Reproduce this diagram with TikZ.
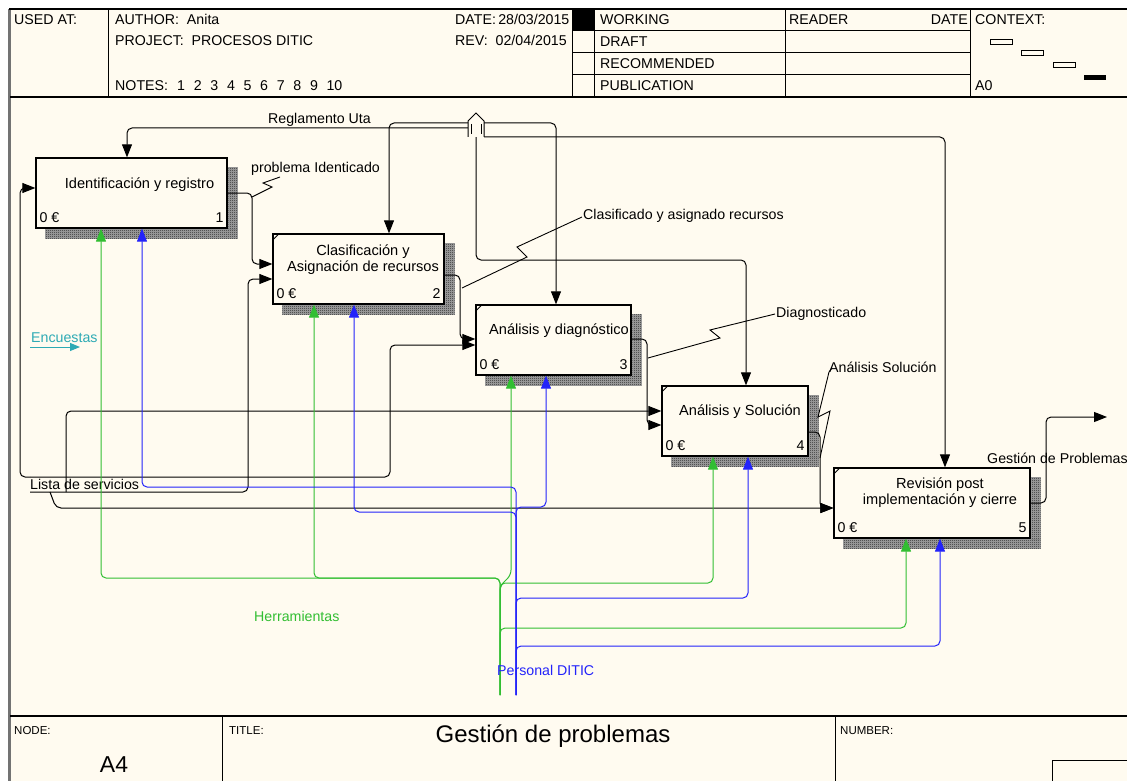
\documentclass[tikz,border=0pt]{standalone}
\usepackage{fontspec}
\setmainfont{Liberation Sans}
\usetikzlibrary{arrows.meta, positioning, calc, patterns}

\definecolor{paper}{RGB}{255,251,240}
\definecolor{toolgreen}{RGB}{50,190,50}
\definecolor{staffblue}{RGB}{35,35,250}
\definecolor{surveyteal}{RGB}{45,170,180}

\pgfdeclarepatternformonly{idefshade}{\pgfqpoint{0pt}{0pt}}{\pgfqpoint{2pt}{2pt}}{\pgfqpoint{2pt}{2pt}}{%
  \pgfpathrectangle{\pgfqpoint{0pt}{0pt}}{\pgfqpoint{1pt}{1pt}}%
  \pgfpathrectangle{\pgfqpoint{1pt}{1pt}}{\pgfqpoint{1pt}{1pt}}%
  \pgfusepath{fill}}

\tikzset{
  actbox/.style={draw, line width=1.3pt, fill=paper, minimum height=70pt, inner sep=0pt},
  boxtext/.style={align=center, font=\fontsize{14.6}{16}\selectfont},
  cost/.style={anchor=base west, inner sep=0pt},
  boxnum/.style={anchor=base east, inner sep=0pt},
  arr/.style={line width=1pt, rounded corners=5pt, -{Triangle[length=13pt,width=10pt]}},
  tool/.style={arr, toolgreen},
  staff/.style={arr, staffblue},
  squig/.style={line width=0.9pt},
  arrlabel/.style={anchor=west, inner sep=0pt},
  hdr/.style={anchor=base west, inner sep=0pt},
  small/.style={font=\fontsize{11.5}{13}\selectfont},
  shade/.style={fill=black!35},
}

\begin{document}
\begin{tikzpicture}[x=1pt, y=-1pt, font=\fontsize{14.2}{16}\selectfont]
  \useasboundingbox (0,0) rectangle (1127,781);
  \fill[white] (0,0) rectangle (1127,781);
  \fill[paper] (9,9) rectangle (1127,781);

  % --- Frame ---
  \draw[line width=3pt, black!55] (9,9) -- (9,781);
  \draw[line width=1.2pt] (9,9) -- (1127,9);
  \draw[line width=1.2pt] (10,97) -- (1127,97);
  \draw[line width=1.2pt] (10,716) -- (1127,716);
  \foreach \x in {108,572,594,785,970}
    \draw[line width=1pt] (\x,9) -- (\x,97);
  \foreach \y in {31,53,75}
    \draw[line width=1pt] (572,\y) -- (970,\y);
  \fill (572,9) rectangle (594,31);
  \foreach \x in {222,835}
    \draw[line width=1pt] (\x,716) -- (\x,781);
  \draw[line width=1pt] (1052,781) -- (1052,760) -- (1127,760);

  % --- Header ---
  \node[hdr] (usedat) at (14,25) {USED AT:};
  \node[hdr] (author) at (115,25) {AUTHOR:\ \ Anita};
  \node[hdr] (project) at (115,46) {PROJECT:\ \ PROCESOS DITIC};
  \node[hdr] (notes) at (115,91) {NOTES:};
  \foreach \n in {1,...,10}
    \node[hdr] (note\n) at (160.4+16.6*\n,91) {\n};
  \node[hdr] (date) at (455,25) {DATE:\,28/03/2015};
  \node[hdr] (rev) at (455,46) {REV:\ \ 02/04/2015};
  \node[hdr] (working) at (600,25) {WORKING};
  \node[hdr] (draft) at (600,47) {DRAFT};
  \node[hdr] (recom) at (600,69) {RECOMMENDED};
  \node[hdr] (publ) at (600,91) {PUBLICATION};
  \node[hdr] (reader) at (789,25) {READER};
  \node[anchor=base east, inner sep=0pt] (rdate) at (968,25) {DATE};
  \node[hdr] (context) at (975,25) {CONTEXT:};
  \node[hdr] (ctxnode) at (975,91) {A0};
  \draw[line width=1pt] (990,40) rectangle (1012,45);
  \draw[line width=1pt] (1021,51) rectangle (1043,56);
  \draw[line width=1pt] (1053,63) rectangle (1075,68);
  \fill (1084,75) rectangle (1106,80);

  % --- Footer ---
  \node[hdr, small] (nodelbl) at (14,734) {NODE:};
  \node[font=\fontsize{23}{26}\selectfont] (nodeid) at (114,765) {A4};
  \node[hdr, small] (titlelbl) at (229,734) {TITLE:};
  \node[font=\fontsize{24}{28}\selectfont] (title) at (553,736) {Gestión de problemas};
  \node[hdr, small] (numlbl) at (840,734) {NUMBER:};

  % --- Activity boxes ---
  \foreach \b/\w/\cx/\cy in {b1/191/131.5/193, b2/171/358.5/269, b3/155/553.5/340,
                             b4/146/735/421, b5/196/932/503}
    \node[actbox, minimum width=\w pt] (\b) at (\cx,\cy) {};
  \foreach \b/\n in {b1/1, b2/2, b3/3, b4/4, b5/5} {
    \fill[shade] ($(\b.north east)+(0.7,10)$) rectangle ($(\b.south east)+(10,0.7)$);
    \fill[shade] ($(\b.south west)+(10,0.7)$) rectangle ($(\b.south east)+(10,10)$);
    \fill[pattern=idefshade, pattern color=black!85]
      ($(\b.north east)+(0.7,10)$) rectangle ($(\b.south east)+(10,0.7)$);
    \fill[pattern=idefshade, pattern color=black!85]
      ($(\b.south west)+(10,0.7)$) rectangle ($(\b.south east)+(10,10)$);
    \node[cost] (z\n) at ($(\b.south west)+(4,-6)$) {0 €};
    \node[boxnum] (n\n) at ($(\b.south east)+(-4,-6)$) {\n};
  }
  \foreach \b in {b2,b3,b4,b5}
    \draw[line width=0.8pt] ($(\b.north west)+(0,7)$) -- ($(\b.north west)+(7,0)$);

  \node[boxtext] (t1) at ($(b1.center)+(8,-8)$) {Identificación y registro};
  \node[boxtext] (t2) at ($(b2.center)+(4.5,-9)$) {Clasificación y\\Asignación de recursos};
  \node[boxtext] (t3) at ($(b3.center)+(5.5,-9)$) {Análisis y diagnóstico};
  \node[boxtext] (t4) at ($(b4.center)+(5,-9)$) {Análisis y Solución};
  \node[boxtext] (t5) at ($(b5.center)+(8,-10)$) {Revisión post\\implementación y cierre};

  % --- Controls (tunnelled Reglamento Uta) ---
  \coordinate (tunA) at (468,128);
  \coordinate (tunB) at (468,123);
  \coordinate (tunC) at (484,123);
  \coordinate (tunD) at (476,137);
  \coordinate (tunE) at (484,137);
  \draw[arr] (tunA) -- (127,128) -- (127,0 |- b1.north);
  \draw[arr] (tunB) -- (389,123) -- (389,0 |- b2.north);
  \draw[arr] (tunC) -- (556,123) -- (556,0 |- b3.north);
  \draw[arr] (tunD) -- (476,260) -- (746,260) -- (746,0 |- b4.north);
  \draw[arr] (tunE) -- (945,137) -- (945,0 |- b5.north);
  \draw[line width=1pt, fill=paper] (468,137) -- (468,121) -- (476,113) -- (484,121) -- (484,137);
  \draw[line width=0.8pt] (471,124) -- (471,134) (481,124) -- (481,134);
  \node[arrlabel] (reglamento) at (268,120) {Reglamento Uta};

  % --- Outputs ---
  \draw[arr] (b1.east |- 0,193) -- (252,193) -- (252,264) -- (b2.west |- 0,264);
  \draw[arr] (b2.east |- 0,275) -- (460,275) -- (460,339) -- (b3.west |- 0,339);
  \draw[arr] (b3.east |- 0,339) -- (647,339) -- (647,425) -- (b4.west |- 0,425);
  \draw[arr] (b4.east |- 0,432) -- (820,432) -- (820,508) -- (b5.west |- 0,508);
  \coordinate (out) at (1107,417);
  \draw[arr] (b5.east |- 0,503) -- (1046,503) -- (1046,417) -- (out);

  \draw[squig] (252,197) -- (272,187) -- (263,183) -- (280,177);
  \node[arrlabel] (identif) at (251,169) {problema Identicado};
  \draw[squig] (462,288) -- (527,257) -- (517,247) -- (582,217);
  \node[arrlabel] (clasif) at (583,216) {Clasificado y asignado recursos};
  \draw[squig] (648,358) -- (720,338) -- (710,330) -- (775,314);
  \node[arrlabel] (diagn) at (776,314) {Diagnosticado};
  \draw[squig] (820,458) -- (830,411) -- (818,417) -- (829,372) -- (832,368);
  \node[arrlabel] (solucion) at (829,367) {Análisis Solución};
  \node[arrlabel] (gestion) at (987,458) {Gestión de Problemas};

  % --- Inputs (Lista de servicios) ---
  \coordinate (listaA) at (30,477);
  \coordinate (listaB) at (30,492);
  \coordinate (listaC) at (66,492);
  \coordinate (listaD) at (50,492);
  \draw[arr] (listaA) -- (20,477) -- (20,188) -- (b1.west |- 0,188);
  \draw[arr] (listaA) -- (390,477) -- (390,345) -- (b3.west |- 0,345);
  \draw[arr] (listaB) -- (248,492) -- (248,279) -- (b2.west |- 0,279);
  \draw[arr] (listaC) -- (66,411) -- (b4.west |- 0,411);
  \draw[arr] (listaD) -- (56,508) -- (b5.west |- 0,508);
  \node[arrlabel] (lista) at (30,484) {Lista de servicios};

  \coordinate (encA) at (30,347);
  \coordinate (encB) at (80,347);
  \draw[surveyteal, line width=1pt, -{Triangle[length=10pt,width=8pt]}] (encA) -- (encB);
  \node[arrlabel, text=surveyteal] (encuestas) at (31,338) {Encuestas};

  % --- Mechanisms ---
  \coordinate (toolsrc) at (500,695);
  \coordinate (staffsrc) at (516,695);
  \draw[tool] (toolsrc) -- (500,578) -- (101,578) -- (101,0 |- b1.south);
  \draw[tool] (toolsrc) -- (500,578) -- (314,578) -- (314,0 |- b2.south);
  \draw[tool] (toolsrc) -- (500,586) -- (511,575) -- (511,0 |- b3.south);
  \draw[tool] (toolsrc) -- (500,583) -- (713,583) -- (713,0 |- b4.south);
  \draw[tool] (toolsrc) -- (500,628) -- (906,628) -- (906,0 |- b5.south);
  \draw[staff] (staffsrc) -- (516,487) -- (142,487) -- (142,0 |- b1.south);
  \draw[staff] (staffsrc) -- (516,512) -- (354,512) -- (354,0 |- b2.south);
  \draw[staff] (staffsrc) -- (516,507) -- (546,507) -- (546,0 |- b3.south);
  \draw[staff] (staffsrc) -- (516,598) -- (748,598) -- (748,0 |- b4.south);
  \draw[staff] (staffsrc) -- (516,646) -- (940,646) -- (940,0 |- b5.south);
  \node[arrlabel, text=toolgreen] (tools) at (254,616) {Herramientas};
  \node[arrlabel, text=staffblue] (staff) at (497,670) {Personal DITIC};
\end{tikzpicture}
\end{document}
